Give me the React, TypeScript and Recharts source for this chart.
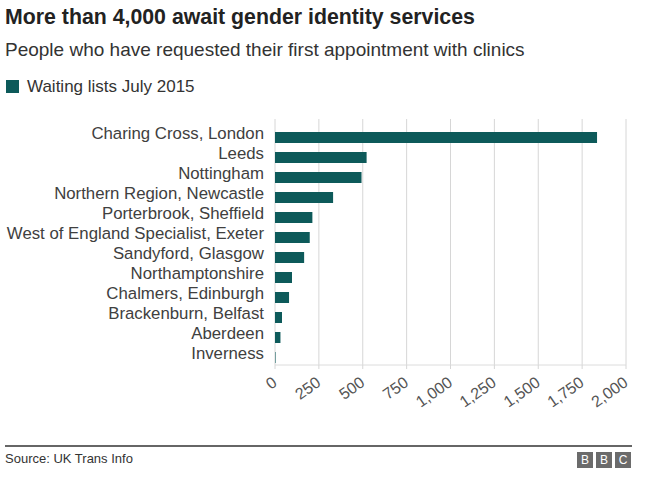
import { BarChart, Bar, XAxis, YAxis, CartesianGrid } from 'recharts'

const clinics = [
  'Charing Cross, London',
  'Leeds',
  'Nottingham',
  'Northern Region, Newcastle',
  'Porterbrook, Sheffield',
  'West of England Specialist, Exeter',
  'Sandyford, Glasgow',
  'Northamptonshire',
  'Chalmers, Edinburgh',
  'Brackenburn, Belfast',
  'Aberdeen',
  'Inverness',
]
const waiting = [1835, 522, 493, 331, 213, 198, 166, 97, 80, 40, 31, 3]
const xTicks = [0, 250, 500, 750, 1000, 1250, 1500, 1750, 2000]

const TEAL = '#0d5a5a'
const FONT = '"Liberation Sans", Arial, Helvetica, sans-serif'

const data = clinics.map((name, i) => ({ name, value: waiting[i] }))

function XTick({ x, y, payload }: any) {
  return (
    <g transform={`translate(${x + 3},${y + 14})`}>
      <text
        x={0}
        y={0}
        textAnchor="end"
        transform="rotate(-35)"
        fontSize={16}
        fill="#555"
        fontFamily={FONT}
      >
        {payload.value.toLocaleString('en-US')}
      </text>
    </g>
  )
}

function YTick({ x, y, payload }: any) {
  return (
    <text x={x} y={y - 3.5} dy="0.355em" textAnchor="end" fontSize={16.8} fill="#404040" fontFamily={FONT}>
      {payload.value}
    </text>
  )
}

export default function App() {
  return (
    <div
      style={{
        position: 'fixed',
        left: 0,
        top: 0,
        width: 660,
        height: 493,
        background: '#fff',
        fontFamily: FONT,
        overflow: 'hidden',
      }}
    >
      <div style={{ position: 'absolute', left: 5, top: 7, fontSize: 21.3, lineHeight: '21px', fontWeight: 'bold', color: '#222' }}>
        More than 4,000 await gender identity services
      </div>
      <div style={{ position: 'absolute', left: 5, top: 40, fontSize: 19, lineHeight: '19px', color: '#333' }}>
        People who have requested their first appointment with clinics
      </div>
      <div style={{ position: 'absolute', left: 6, top: 80, width: 13, height: 13, background: TEAL }} />
      <div style={{ position: 'absolute', left: 27, top: 78, fontSize: 17, lineHeight: '17px', color: '#333' }}>
        Waiting lists July 2015
      </div>

      <div style={{ position: 'absolute', left: 0, top: 0 }}>
        <BarChart
          width={660}
          height={430}
          data={data}
          layout="vertical"
          margin={{ top: 119, right: 34, left: 0, bottom: 0 }}
        >
          <CartesianGrid horizontal={false} stroke="#d6d6d6" />
          <XAxis
            type="number"
            domain={[0, 2000]}
            ticks={xTicks}
            interval={0}
            height={65}
            axisLine={{ stroke: '#dcdcdc' }}
            tickLine={{ stroke: '#d6d6d6' }}
            tickSize={4}
            tick={<XTick />}
          />
          <YAxis
            type="category"
            dataKey="name"
            width={275}
            interval={0}
            padding={{ top: 8, bottom: -2 }}
            axisLine={false}
            tickLine={false}
            tickSize={0}
            tickMargin={11}
            tick={<YTick />}
          />
          <Bar dataKey="value" fill={TEAL} barSize={11} isAnimationActive={false} />
        </BarChart>
      </div>

      <div style={{ position: 'absolute', left: 5, top: 445, width: 627, height: 2, background: '#666' }} />
      <div style={{ position: 'absolute', left: 5, top: 452, fontSize: 13, lineHeight: '13px', color: '#333' }}>
        Source: UK Trans Info
      </div>
      <div style={{ position: 'absolute', left: 577, top: 452, display: 'flex', gap: 3 }}>
        {['B', 'B', 'C'].map((l, i) => (
          <div
            key={i}
            style={{
              width: 16,
              height: 16,
              background: '#6b6b6b',
              color: '#fff',
              fontSize: 12,
              lineHeight: '16px',
              textAlign: 'center',
            }}
          >
            {l}
          </div>
        ))}
      </div>
    </div>
  )
}
